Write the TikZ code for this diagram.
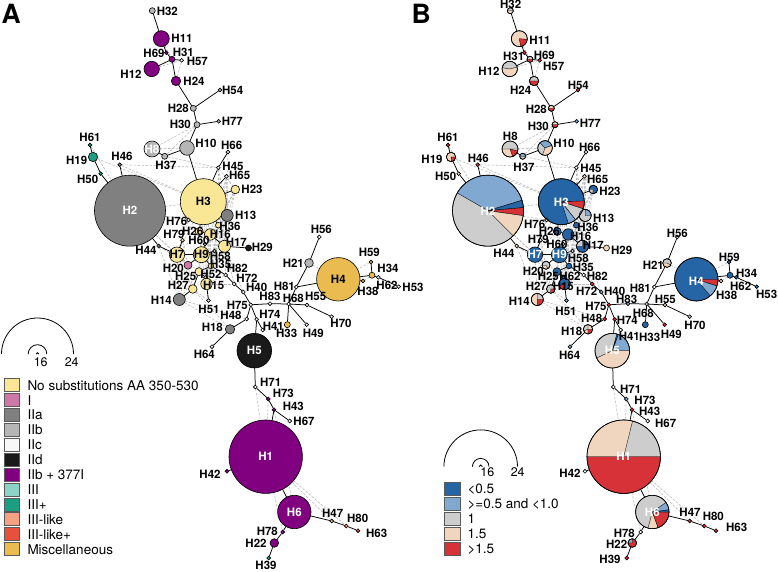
\documentclass[tikz,border=0pt]{standalone}
\usepackage{fontspec}
\setmainfont{TeX Gyre Heros}
\pgfdeclarelayer{bg}
\pgfsetlayers{bg,main}
\definecolor{cNo}{RGB}{250,231,150}
\definecolor{cI}{RGB}{204,121,167}
\definecolor{cIIa}{RGB}{128,128,128}
\definecolor{cIIb}{RGB}{182,182,182}
\definecolor{cIIc}{RGB}{247,247,247}
\definecolor{cIId}{RGB}{26,26,26}
\definecolor{cP}{RGB}{128,0,128}
\definecolor{cIII}{RGB}{141,211,199}
\definecolor{cIIIp}{RGB}{27,158,130}
\definecolor{cL}{RGB}{244,160,130}
\definecolor{cLp}{RGB}{230,80,60}
\definecolor{cM}{RGB}{233,187,80}
\definecolor{bA}{RGB}{37,101,165}
\definecolor{bB}{RGB}{128,168,208}
\definecolor{bC}{RGB}{205,205,205}
\definecolor{bD}{RGB}{240,214,190}
\definecolor{bE}{RGB}{214,50,56}
\def\nodelist{%
H32/152.3/10.7/3/cIIb/bC/167.3/11/black/black/-14.6/-7/H32,%
H11/161.3/38.7/8/cP/bD/182/38.3/black/black/0/2/H11,%
H69/166.3/52.7/1.6/cP/bE/154/53.3/black/black/32.3/2/H69,%
H31/172/59.3/3/cP/bC/183.3/52.3/black/black/-27.6/4.4/H31,%
H57/181.7/60.3/1.8/cIIc/bE/197.3/61.3/black/black/-1.6/5.4/H57,%
H12/151.7/69/7.7/cP/bD/131/74/black/black/0/-3/H12,%
H24/176/81/4.7/cP/bC/194/81/black/black/-31.3/9.7/H24,%
H54/220/90/1.8/cIIb/bE/232.7/90/black/black/-12.4/-5/H54,%
H28/193.3/108.3/3/cIIb/bD/178.3/108.7/black/black/0/1/H28,%
H30/197/124.7/3/cIIb/bD/180.3/124.3/black/black/0/2/H30,%
H77/218.7/121.3/1.8/cIIb/bB/232.3/121.3/black/black/0/2/H77,%
H10/187/148/7.3/cIIb/bC/206/143.3/black/black/0/0/H10,%
H8/152/149/8/cIIb/bC/152/149.7/white/black/0.3/-13/H8,%
H37/164.7/156.3/3/cIIb/bC/166/165/black/black/0/2/H37,%
H66/228/152/1.8/cIIc/white/231.7/145/black/black/0/2/H66,%
H45/218.3/167.7/1.8/cIIc/white/233/166.3/black/black/0/2/H45,%
H65/226.5/176.3/1.8/cIIc/bD/239.7/175/black/black/0/4/H65,%
H23/235.3/189.5/4.3/cNo/bA/252/189.7/black/black/0/2/H23,%
H61/90/145/1.5/cIIIp/bE/90/137/black/black/0/0.7/H61,%
H19/93/157/4.7/cIIIp/bD/76.7/160.3/black/black/-2.7/-0.6/H19,%
H50/100.7/173.7/1.4/cIIIp/bD/87.7/179/black/black/0/-3/H50,%
H46/119.7/164.7/1.8/cIIa/bE/122/156/black/black/-1.7/2.3/H46,%
H2/130/210.7/35.5/cIIa/bC/130/210.7/white/white/0/1/H2,%
H3/203.3/201.7/23/cNo/bA/203.3/201.7/black/white/0/1/H3,%
H13/227.2/215.5/6/cIIa/bC/245.7/215.3/black/black/0/3/H13,%
H76/188.5/220/1.4/cIIc/white/176.7/221.3/black/black/0/2.7/H76,%
H36/218.3/225.2/2.8/cNo/bA/230/226/black/black/0/1.3/H36,%
H26/199.2/231.5/4/cNo/bA/192.7/231/black/black/-1.4/0.7/H26,%
H16/210.2/234.5/5.7/cNo/bA/220.3/234.7/black/black/2.4/2/H16,%
H79/182.5/240.2/1.4/cNo/bC/174/234.7/black/black/6.3/4.6/H79,%
H60/205/244/1.4/cIIb/bC/199/240.7/black/black/0/3.6/H60,%
H17/224.5/246.3/6/cNo/bA/236.3/242/black/black/-1/3/H17,%
H29/248.5/248/3/cIId/bD/262.3/247.7/black/black/1.4/2.3/H29,%
H44/158.7/246/1.5/cIIa/bD/146/250.3/black/black/0/3/H44,%
H7/177/254.7/7.7/cNo/bA/177/254.7/black/white/0/0/H7,%
H9/201.3/254.7/8/cNo/bA/201.3/254.7/black/white/0/0/H9,%
H58/214.5/251/1.4/cIIb/bC/220.3/256.7/black/black/0/1.6/H58,%
H20/188/265.2/4/cI/bC/173.3/268.3/black/black/2/3.4/H20,%
H35/211/266/2.8/cNo/bA/220.7/264.3/black/black/4.6/3.4/H35,%
H82/225.7/275/1.4/cIIc/white/237.3/268/black/black/2/8.7/H82,%
H25/199/271.7/4/cNo/bA/185.7/276.7/black/black/4.6/0/H25,%
H52/205.5/277.5/1.5/cNo/bA/211/274.3/black/black/1/2/H62,%
H72/234.2/284/1.4/cIIc/bE/247/278.3/black/black/-18.3/13.4/H72,%
H27/192.8/289/4.3/cNo/bC/178.3/285.7/black/black/0/1/H27,%
H15/206.5/284/5.7/cNo/bA/213.7/285.7/black/black/-8.4/1/H15,%
H40/243.3/292/1.4/cIIc/bB/256.7/287/black/black/0/4.7/H40,%
H14/179.3/299.5/6/cIIa/bC/161.3/300/black/black/0/1/H14,%
H51/208.5/300.5/1.4/cIIc/bB/209/309.7/black/black/-1/2/H51,%
H75/250.8/304.8/1.2/cIIc/bE/237.3/305/black/black/0.7/1/H75,%
H83/270/303.7/1.4/cIIc/bB/270/296/black/black/-1.3/3/H83,%
H68/288.7/304/1.2/cIIc/bC/293.3/298.3/black/black/-8/15/H68,%
H55/307/305/1.4/cIIc/bD/315.7/296.7/black/black/-8.4/2.3/H55,%
H70/331.7/316.7/1.4/cIIc/bC/341/323.3/black/black/-4/1.7/H70,%
H49/306.7/324.7/1.4/cIIc/bE/313.3/333.3/black/black/0/1/H49,%
H33/287.3/324.7/3/cM/bA/286.7/333.3/black/black/5/4/H33,%
H81/296.3/287/1.4/cIIc/white/284.3/286.7/black/black/-2/1.6/H81,%
H21/309/263/4.3/cIIb/bC/293.3/263/black/black/2/2/H21,%
H56/319.3/237/1.5/cIIc/bD/321.3/229.3/black/black/-2/4/H56,%
H4/338.3/279.3/21.7/cM/bA/338.3/279.3/black/white/0/1.7/H4,%
H59/371/262/1.5/cM/bA/369.3/252/black/black/2/5.3/H59,%
H34/372/275.3/3/cM/bA/388/268/black/black/0.7/5.3/H34,%
H62/378.3/277.3/1.4/cIIc/bA/387/285/black/black/-4.3/1.7/H62,%
H53/398.7/286.7/1.5/cIIc/bA/413/287/black/black/-4.3/7/H53,%
H38/363/281/1.4/cM/bD/368/291.3/black/black/0.7/4.4/H38,%
H48/246.7/319/1.2/cIIc/bE/231/315.7/black/black/2.7/2.6/H48,%
H74/256.7/319.3/1.2/cIIc/bE/270/314.7/black/black/-0.7/5.3/H74,%
H41/262.7/330/1.2/cIIc/white/273.3/326.7/black/black/-2/10/H41,%
H18/230/329.3/4.7/cIIa/bD/212.3/327.3/black/black/1.4/4.4/H18,%
H64/212/346.7/1.4/cIIc/bB/204.3/354/black/black/7.4/1.7/H64,%
H5/254.3/350.7/17.3/cIId/bC/254.3/350.7/white/white/0/0/H5,%
H71/255.3/387/1.4/cIIc/white/270.7/382.7/black/black/2/6.6/H71,%
H73/268.3/399/1.6/cP/bB/283.3/393.3/black/black/3.7/7.4/H73,%
H43/274/409.7/1.6/cP/bE/293.3/406/black/black/-1.6/5/H43,%
H67/289.7/421/1.6/cIIc/white/304/421/black/black/3.7/2.3/H67,%
H1/265.7/456.7/36.7/cP/bC/265.7/456.7/white/white/0/0/H1,%
H42/227/471.3/1.6/cP/white/210/474.3/black/black/2/-1/H42,%
H6/294.3/512/16.7/cP/bC/294.3/512/white/white/0/0/H6,%
H47/331.7/521/1.4/cL/bE/332.7/513.3/black/black/-0.7/-1/H47,%
H80/346.3/526/1.4/cL/bE/357.7/518.7/black/black/-2.4/-2/H80,%
H63/358/530.7/1.6/cLp/bE/376.7/533.7/black/black/2/-6/H63,%
H78/282.7/532/1.6/cP/white/267.3/531/black/black/-1/2.3/H78,%
H22/274.3/543/4.3/cP/bE/256/543.3/black/black/2.7/1/H22,%
H39/268.7/558/1.4/cIIIp/bE/266/565.8/black/black/-14/-6.5/H39%
}
\def\treelist{%
H32/H11,H11/H69,H69/H31,H31/H57,H31/H12,H31/H24,H24/H28,H28/H54,H28/H30,H30/H77,%
H30/H10,H10/H37,H37/H8,H10/H3,H61/H19,H19/H50,H50/H2,H46/H2,H66/H45,H45/H3,%
H65/H3,H23/H3,H3/H13,H3/H36,H3/H76,H3/H26,H26/H16,H16/H17,H17/H29,H2/H44,%
H44/H7,H7/H9,H9/H60,H9/H58,H7/H79,H9/H20,H9/H35,H35/H25,H25/H52,H52/H15,%
H25/H27,H27/H14,H15/H51,H35/H82,H82/H72,H72/H40,H40/H75,H75/H83,H83/H68,H68/H55,%
H55/H70,H68/H49,H68/H33,H68/H81,H81/H21,H21/H56,H81/H4,H4/H38,H4/H34,H34/H59,%
H34/H62,H62/H53,H75/H48,H48/H18,H18/H64,H75/H74,H74/H41,H74/H5,H5/H71,H71/H73,%
H73/H43,H43/H67,H43/H1,H1/H42,H1/H6,H6/H47,H47/H80,H80/H63,H6/H78,H78/H22,H22/H39%
}
\def\altlist{%
H11/H31,H12/H57,H57/H24,H30/H37,H30/H8,H8/H10,H19/H3,H46/H3,H46/H45,H37/H45,%
H61/H2,H2/H3,H2/H7,H2/H20,H2/H76,H44/H20,H44/H14,H3/H17,H3/H16,H3/H9,%
H3/H7,H3/H35,H3/H15,H3/H25,H13/H9,H13/H16,H13/H17,H23/H13,H23/H17,H65/H13,%
H65/H36,H36/H17,H26/H9,H26/H7,H16/H35,H16/H15,H17/H35,H17/H15,H17/H82,H9/H15,%
H9/H27,H7/H20,H7/H25,H7/H27,H7/H14,H20/H14,H20/H27,H25/H15,H25/H14,H35/H15,%
H58/H52,H52/H51,H27/H51,H15/H82,H60/H25,H79/H20,H76/H7,H3/H58,H36/H58,H16/H52,%
H13/H58,H23/H36,H14/H48,H27/H18,H14/H18,H15/H72,H17/H40,H59/H4,H34/H38,H21/H4,%
H71/H1,H73/H1,H1/H47,H1/H80,H43/H6,H1/H78,H45/H13,H65/H23,H45/H23,H17/H72,%
H45/H36,H66/H13,H65/H17,H45/H17,H23/H16,H13/H35,H13/H15,H36/H35,H36/H15,H23/H9,H65/H16%
}
\newcommand\pieslices[3]{%
  \foreach \ps/\pe/\pc in {#3}{%
    \filldraw[fill=\pc,draw=black,line width=0.35pt] (#1.center) -- ++(\ps:#2pt)
      arc[start angle=\ps,end angle=\pe,radius=#2pt] -- cycle;}
  \draw[line width=0.6pt] (#1.center) circle[radius=#2pt];}
\begin{document}
\begin{tikzpicture}[x=1pt,y=1pt,
  hap/.style={circle,draw=black,line width=0.6pt,inner sep=0pt,outer sep=0pt},
  lab/.style={font=\fontsize{11.5}{12}\selectfont\bfseries,inner sep=0pt},
  edge/.style={line width=0.75pt,black},
  alt/.style={line width=0.55pt,black!28,dash pattern=on 2.5pt off 1.5pt},
  keybox/.style={draw=black!65,line width=0.8pt,minimum width=15pt,minimum height=13pt,inner sep=0pt},
  keytext/.style={font=\fontsize{13.5}{15}\selectfont,anchor=west,inner sep=0pt},
  sizearc/.style={line width=0.8pt,black},
  sizetext/.style={font=\fontsize{12.5}{14}\selectfont,inner sep=0pt},
  panel/.style={font=\fontsize{26.5}{28}\selectfont\bfseries,anchor=base west,inner sep=0pt}]
\useasboundingbox (0,0) rectangle (778,572);
% haplotype circles
\foreach \n/\x/\y/\r/\ca/\cb/\lx/\ly/\ta/\tb/\ox/\oy/\nb in \nodelist {
  \node[hap,minimum size={max(2*\r,3.8)*1pt},fill=\ca] (a\n) at ({\x},{572-\y}) {};
  \node[hap,minimum size={max(2*\r,3.8)*1pt},fill=\cb] (b\n) at ({\x+358},{572-\y}) {};
}
% pie charts in panel B
\pieslices{bH32}{3}{180/360/bD}
\pieslices{bH11}{8}{-80/-5/bE}
\pieslices{bH31}{3}{180/360/bE}
\pieslices{bH12}{7.7}{15/170/bC}
\pieslices{bH24}{4.7}{180/360/bE}
\pieslices{bH28}{3}{180/360/bE}
\pieslices{bH30}{3}{180/360/bE}
\pieslices{bH10}{7.3}{20/135/bB,-110/20/bD}
\pieslices{bH8}{8}{180/360/bD,290/345/bE}
\pieslices{bH37}{3}{0/180/bB}
\pieslices{bH23}{4.3}{180/260/bC}
\pieslices{bH19}{4.7}{-80/0/bE}
\pieslices{bH2}{35.5}{17/150/bB,5/17/bA,-8/5/bE,-45/-8/bD}
\pieslices{bH3}{23}{-18/2/bE,-52/-18/bC,-72/-52/bB}
\pieslices{bH13}{6}{0/90/bB}
\pieslices{bH17}{6}{90/180/bC}
\pieslices{bH20}{4}{180/300/bD}
\pieslices{bH27}{4.3}{-90/0/bE}
\pieslices{bH15}{5.7}{200/260/bE}
\pieslices{bH14}{6}{90/270/bD,-90/0/bE}
\pieslices{bH21}{4.3}{180/330/bD}
\pieslices{bH4}{21.7}{-18/0/bE,-50/-18/bB}
\pieslices{bH18}{4.7}{90/200/bC,-90/0/bE}
\pieslices{bH5}{17.3}{0/70/bB,70/75/bA,205/360/bD}
\pieslices{bH1}{36.7}{180/360/bE,76/180/bD}
\pieslices{bH6}{16.7}{-70/0/bE,-105/-70/bD,0/8/bA,8/35/bB}
\pieslices{bH22}{4.3}{90/180/bB}
% labels
\foreach \n/\x/\y/\r/\ca/\cb/\lx/\ly/\ta/\tb/\ox/\oy/\nb in \nodelist {
  \node[lab,text=\ta] (la\n) at ({\lx},{572-\ly}) {\n};
  \node[lab,text=\tb] (lb\n) at ({\lx+358+\ox},{572-\ly-\oy}) {\nb};
}
% connectors (below the circles)
\begin{pgfonlayer}{bg}
\fill[white] (0,0) rectangle (778,572);
\foreach \u/\v in \altlist {
  \draw[alt] (a\u) -- (a\v);
  \draw[alt] (b\u) -- (b\v);
}
\foreach \u/\v in \treelist {
  \draw[edge] (a\u) -- (a\v);
  \draw[edge] (b\u) -- (b\v);
}
\end{pgfonlayer}
% panel letters
\node[panel] (pA) at (1.5,548) {A};
\node[panel] (pB) at (411.5,548) {B};
% size legend A
\draw[sizearc] (1.5,218) arc[start angle=180,end angle=0,radius=36pt];
\draw[sizearc] (28.2,218) arc[start angle=180,end angle=0,radius=9.3pt];
\draw[sizearc] (36.2,218) arc[start angle=180,end angle=0,radius=1.3pt];
\node[sizetext] (sA16) at (40.7,209.7) {16};
\node[sizetext] (sA24) at (71.7,209.7) {24};
% size legend B
\draw[sizearc] (443.9,105.3) arc[start angle=180,end angle=0,radius=36.8pt];
\draw[sizearc] (472.4,105.3) arc[start angle=180,end angle=0,radius=8.3pt];
\draw[sizearc] (479,105.3) arc[start angle=180,end angle=0,radius=1.7pt];
\node[sizetext] (sB16) at (487.3,100.3) {16};
\node[sizetext] (sB24) at (517.7,100.3) {24};
% colour legend A
\foreach \i/\col/\txt in {0/cNo/No substitutions AA 350-530,1/cI/I,2/cIIa/IIa,3/cIIb/IIb,4/cIIc/IIc,5/cIId/IId,6/cP/IIb + 377I,7/cIII/III,8/cIIIp/III+,9/cL/III-like,10/cLp/III-like+,11/cM/Miscellaneous} {
  \node[keybox,fill=\col] (ka\i) at (12,{572-385.3-14.9*\i}) {};
  \node[keytext] (kta\i) at (27.3,{572-385.3-14.9*\i}) {\txt};
}
% colour legend B
\foreach \i/\col/\txt in {0/bA/<0.5,1/bB/>=0.5 and <1.0,2/bC/1,3/bD/1.5,4/bE/>1.5} {
  \node[keybox,minimum width=16pt,fill=\col] (kb\i) at (452,{572-489.3-14.85*\i}) {};
  \node[keytext] (ktb\i) at (467.3,{572-489.3-14.85*\i}) {\txt};
}
\end{tikzpicture}
\end{document}
